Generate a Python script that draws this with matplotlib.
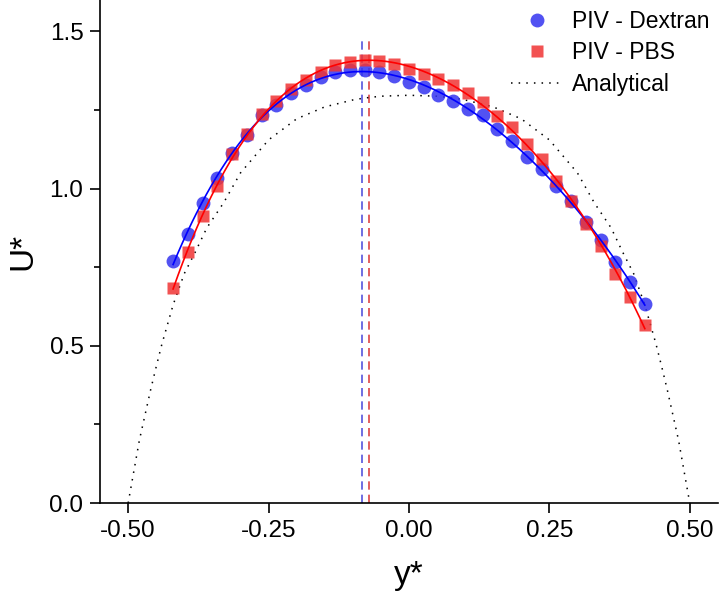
import matplotlib as mpl
mpl.use('Agg')
import matplotlib.pyplot as plt
import numpy as np
from matplotlib.ticker import MultipleLocator, FormatStrFormatter

plt.rcParams['font.family'] = ['Liberation Sans', 'DejaVu Sans']

# ------- data -----------------------------
y_pos = np.linspace(-0.42, 0.42, 33)

u_dextran = [0.771, 0.856, 0.955, 1.035, 1.114, 1.171, 1.233, 1.267, 1.303, 1.329,
             1.354, 1.370, 1.377, 1.377, 1.370, 1.357, 1.339, 1.322, 1.298, 1.280,
             1.252, 1.233, 1.189, 1.150, 1.102, 1.061, 1.008, 0.960, 0.893, 0.838,
             0.767, 0.702, 0.633]

u_pbs = [0.684, 0.798, 0.912, 1.008, 1.111, 1.175, 1.237, 1.278, 1.316, 1.345,
         1.372, 1.393, 1.403, 1.410, 1.405, 1.397, 1.381, 1.366, 1.348, 1.330,
         1.303, 1.276, 1.231, 1.197, 1.141, 1.093, 1.024, 0.962, 0.888, 0.817,
         0.730, 0.656, 0.567]

# analytical profile (half, symmetric about 0)
ana_half_y = [0.0, 0.05, 0.08, 0.10, 0.15, 0.20, 0.25, 0.30, 0.33, 0.36, 0.38,
              0.40, 0.42, 0.44, 0.45, 0.46, 0.47, 0.48, 0.49, 0.50]
ana_half_u = [1.297, 1.294, 1.288, 1.282, 1.260, 1.222, 1.155, 1.050, 0.955, 0.875,
              0.800, 0.730, 0.630, 0.505, 0.434, 0.360, 0.280, 0.200, 0.100, 0.0]

# peak positions of fitted curves
peak_dextran = -0.084
peak_pbs = -0.071

ana_y = np.concatenate([-np.array(ana_half_y[::-1]), np.array(ana_half_y[1:])])
ana_u = np.concatenate([np.array(ana_half_u[::-1]), np.array(ana_half_u[1:])])

# smooth fitted curves through the measured points
yy = np.linspace(y_pos[0], y_pos[-1], 200)
fit_d = np.polyval(np.polyfit(y_pos, u_dextran, 4), yy)
fit_p = np.polyval(np.polyfit(y_pos, u_pbs, 4), yy)

fig = plt.figure(figsize=(7.2, 5.96), dpi=100)
ax = fig.add_axes([0.139, 0.156, 0.858, 0.844])

blue = '#3434f0'
red = '#f03434'

ax.plot(y_pos, u_dextran, 'o', color=blue, alpha=0.85, ms=10, mec='none',
        label='PIV - Dextran', zorder=3)
ax.plot(y_pos, u_pbs, 's', color=red, alpha=0.85, ms=8.5, mec='none',
        label='PIV - PBS', zorder=3)
ax.plot(yy, fit_d, '-', color='#0000ff', lw=1.2, label='_nolegend_', zorder=4)
ax.plot(yy, fit_p, '-', color='#ff0000', lw=1.2, label='_nolegend_', zorder=4)
ax.plot(ana_y, ana_u, color='black', lw=1.1, ls=(0, (1, 4)), label='Analytical',
        zorder=2)

ax.plot([peak_dextran, peak_dextran], [0, 1.48], '--', color='#5555dd', lw=1.2,
        dashes=(5, 3), zorder=1)
ax.plot([peak_pbs, peak_pbs], [0, 1.48], '--', color='#dd4444', lw=1.2,
        dashes=(5, 3), zorder=1)

ax.set_xlim(-0.55, 0.55)
ax.set_ylim(0, 1.6)
ax.xaxis.set_major_locator(MultipleLocator(0.25))
ax.xaxis.set_major_formatter(FormatStrFormatter('%.2f'))
ax.yaxis.set_major_locator(MultipleLocator(0.5))
ax.yaxis.set_minor_locator(MultipleLocator(0.25))
ax.yaxis.set_major_formatter(FormatStrFormatter('%.1f'))

for s in ['top', 'right']:
    ax.spines[s].set_visible(False)
for s in ['left', 'bottom']:
    ax.spines[s].set_linewidth(1.2)

ax.tick_params(which='major', direction='out', length=7, width=1.2,
               labelsize=17.5, pad=5)
ax.tick_params(which='minor', direction='out', length=4, width=1.2)

ax.set_xlabel('y*', fontsize=24, labelpad=13)
ax.set_ylabel('U*', fontsize=24, labelpad=8)

ax.legend(loc='upper right', frameon=False, fontsize=16.5, handlelength=2.2,
          handletextpad=0.45, labelspacing=0.38, bbox_to_anchor=(1.02, 1.022))

fig.savefig('out.png', dpi=100)
